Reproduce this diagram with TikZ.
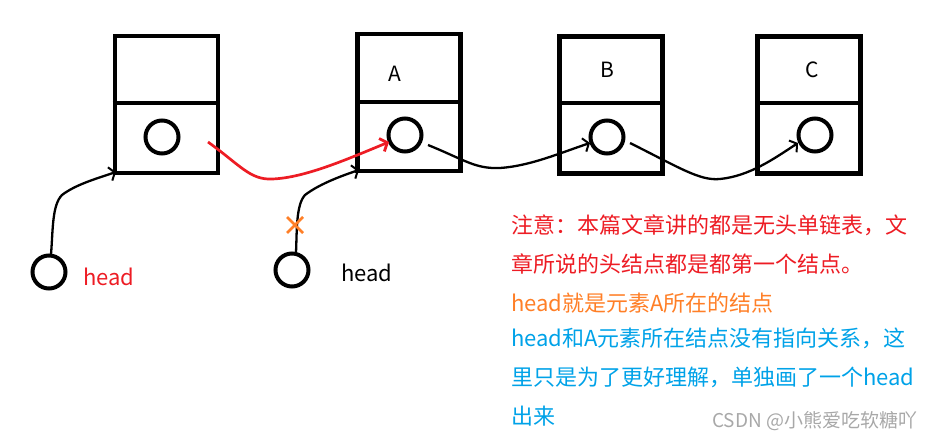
\documentclass[tikz,border=0pt]{standalone}
\usepackage{fontspec}
\setmainfont{Noto Sans CJK SC}
\usetikzlibrary{arrows.meta}
\definecolor{cred}{HTML}{ED1C24}
\definecolor{corange}{HTML}{FF7F27}
\definecolor{cblue}{HTML}{00A2E8}
\definecolor{cgray}{HTML}{A8A8A8}
\begin{document}
\begin{tikzpicture}[x=1pt,y=-1pt,
  nodebox/.style={draw, line width=4.6pt, minimum width=103pt, minimum height=137pt, inner sep=0pt},
  ptr/.style={draw, circle, line width=4pt, minimum size=33pt, inner sep=0pt},
  link/.style={line width=2.3pt, -{Straight Barb[length=5pt,width=14pt,line width=2pt]}},
  redlink/.style={line width=2.7pt, cred, -{Straight Barb[length=6pt,width=14pt,line width=2.8pt]}},
  val/.style={font=\fontsize{21}{21}\selectfont},
  txt/.style={anchor=west, inner sep=0pt, font=\fontsize{22}{22}\selectfont}]
\useasboundingbox (0,0) rectangle (938,441);
% boxes
\node[nodebox] (n0) at (166.5,104.5) {};
\node[nodebox] (nA) at (409,102.5) {};
\node[nodebox] (nB) at (611,105) {};
\node[nodebox] (nC) at (809,105) {};
\draw[line width=4.6pt] (n0.west |- 0,103) -- (n0.east |- 0,103);
\draw[line width=4.6pt] (nA.west |- 0,102) -- (nA.east |- 0,102);
\draw[line width=4.6pt] (nB.west |- 0,103) -- (nB.east |- 0,103);
\draw[line width=4.6pt] (nC.west |- 0,103) -- (nC.east |- 0,103);
% values
\node[val] (lA) at (395,74) {A};
\node[val] (lB) at (607,70) {B};
\node[val] (lC) at (812,70) {C};
% pointer circles
\node[ptr] (p0) at (162,137) {};
\node[ptr] (pA) at (405,135) {};
\node[ptr] (pB) at (607,137) {};
\node[ptr] (pC) at (815,135) {};
\node[ptr] (h1) at (49,272) {};
\node[ptr] (h2) at (292,270) {};
% connector ends
\coordinate (r0) at (208,142);
\coordinate (rA) at (389,142);
\coordinate (a0) at (428,145);
\coordinate (aB) at (590,143);
\coordinate (b0) at (630,143);
\coordinate (bC) at (798,143);
\coordinate (t1) at (116,172);
\coordinate (t2) at (359,170);
% links
\draw[redlink] (r0) .. controls (240,165) and (250,180) .. (272,179) .. controls (305,178) and (350,158) .. (rA);
\draw[link] (a0) .. controls (465,160) and (475,169) .. (500,168) .. controls (530,166) and (560,153) .. (aB);
\draw[link] (b0) .. controls (680,168) and (700,181) .. (720,179) .. controls (750,176) and (775,158) .. (bC);
\draw[link] (h1.north) ++(2,1) .. controls (53,230) and (52,205) .. (62,195) .. controls (75,185) and (95,179) .. (t1);
\draw[link] (h2.north) ++(4,1) .. controls (297,230) and (296,205) .. (305,195) .. controls (318,185) and (338,177) .. (t2);
% cross
\node (x) at (295,225) {};
\draw[corange, line width=2.8pt] (x.center) ++(-8,-8) -- ++(16,16);
\draw[corange, line width=2.8pt] (x.center) ++(8,-8) -- ++(-16,16);
% head labels
\node[txt, cred] (hl1) at (83,277) {head};
\node[txt] (hl2) at (341,273) {head};
% notes
\node[txt, cred] (m1) at (511,225) {注意：本篇文章讲的都是无头单链表，文};
\node[txt, cred] (m2) at (511,264) {章所说的头结点都是都第一个结点。};
\node[txt, corange] (m3) at (511,303) {head就是元素A所在的结点};
\node[txt, cblue] (m4) at (511,338) {head和A元素所在结点没有指向关系，这};
\node[txt, cblue] (m5) at (511,377) {里只是为了更好理解，单独画了一个head};
\node[txt, cblue] (m6) at (511,416) {出来};
\node[anchor=west, inner sep=0pt, cgray, font=\fontsize{19}{19}\selectfont] (wm) at (712,421) {CSDN @小熊爱吃软糖吖};
\end{tikzpicture}
\end{document}
